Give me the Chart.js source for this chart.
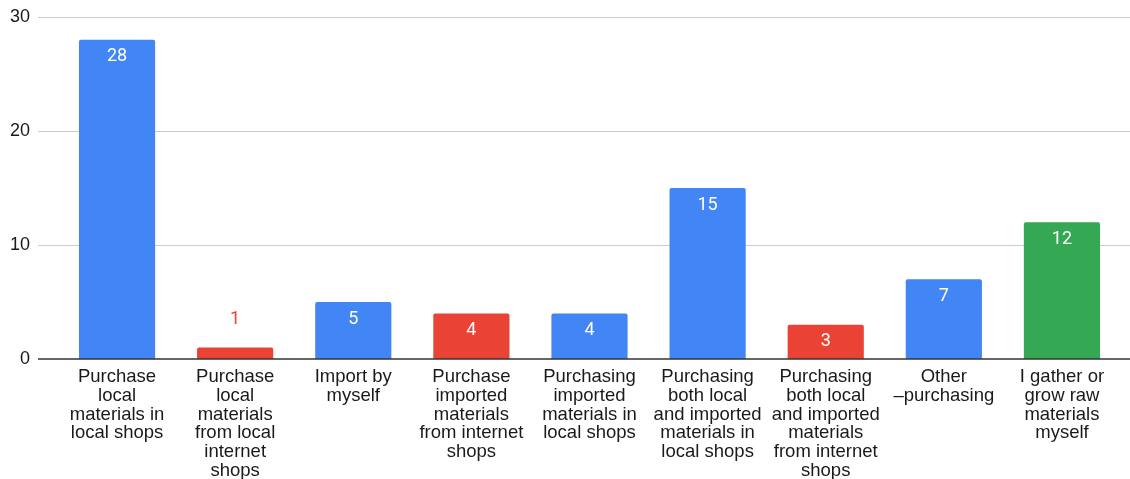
<!DOCTYPE html>
<html>
<head>
<meta charset="utf-8">
<title>Raw materials sources</title>
<script src="https://cdn.jsdelivr.net/npm/chart.js@4/dist/chart.umd.min.js"></script>
<style>
  html, body { margin: 0; padding: 0; background: #fff; }
  canvas { display: block; }
</style>
</head>
<body>
<canvas id="myChart" width="1130" height="479"></canvas>
<script>
const categories = [
    ['Purchase', 'local', 'materials in', 'local shops'],
    ['Purchase', 'local', 'materials', 'from local', 'internet', 'shops'],
    ['Import by', 'myself'],
    ['Purchase', 'imported', 'materials', 'from internet', 'shops'],
    ['Purchasing', 'imported', 'materials in', 'local shops'],
    ['Purchasing', 'both local', 'and imported', 'materials in', 'local shops'],
    ['Purchasing', 'both local', 'and imported', 'materials', 'from internet', 'shops'],
    ['Other', '\u2013purchasing'],
    ['I gather or', 'grow raw', 'materials', 'myself']
];
const counts = [28, 1, 5, 4, 4, 15, 3, 7, 12];
const barColors = ['#4285F4', '#EA4335', '#4285F4', '#EA4335', '#4285F4',
                   '#4285F4', '#EA4335', '#4285F4', '#34A853'];
const yTicks = [0, 10, 20, 30];

const FONT = '"Liberation Sans", Arial, sans-serif';

// horizontal grid + baseline, a bit wider than the bar area
const gridLines = {
    id: 'gridLines',
    beforeDatasetsDraw(chart) {
        const ctx = chart.ctx;
        const y = chart.scales.y;
        ctx.save();
        yTicks.forEach(v => {
            if (v === 0) return;
            const py = Math.round(y.getPixelForValue(v)) + 0.5;
            ctx.strokeStyle = '#cccccc';
            ctx.lineWidth = 1;
            ctx.beginPath();
            ctx.moveTo(38, py);
            ctx.lineTo(1130, py);
            ctx.stroke();
        });
        ctx.restore();
    },
    afterDatasetsDraw(chart) {
        const ctx = chart.ctx;
        const py = chart.scales.y.getPixelForValue(0);
        ctx.save();
        ctx.strokeStyle = '#333333';
        ctx.lineWidth = 1.5;
        ctx.beginPath();
        ctx.moveTo(38, py);
        ctx.lineTo(1130, py);
        ctx.stroke();
        ctx.restore();
    }
};

// value labels: inside the bar top, or above it when the bar is too short
const valueLabels = {
    id: 'valueLabels',
    afterDatasetsDraw(chart) {
        const ctx = chart.ctx;
        const meta = chart.getDatasetMeta(0);
        ctx.save();
        ctx.font = '18px Roboto, sans-serif';
        ctx.textAlign = 'center';
        ctx.textBaseline = 'middle';
        meta.data.forEach((bar, i) => {
            const h = bar.base - bar.y;
            if (h > 30) {
                ctx.fillStyle = '#ffffff';
                ctx.fillText(counts[i], bar.x, bar.y + 17);
            } else {
                ctx.fillStyle = barColors[i];
                ctx.fillText(counts[i], bar.x, bar.y - 28);
            }
        });
        ctx.restore();
    }
};

new Chart(document.getElementById('myChart'), {
    type: 'bar',
    data: {
        labels: categories,
        datasets: [{
            data: counts,
            backgroundColor: barColors,
            borderRadius: { topLeft: 2, topRight: 2 },
            borderSkipped: 'bottom',
            categoryPercentage: 1,
            barPercentage: 0.645
        }]
    },
    options: {
        responsive: false,
        devicePixelRatio: 1,
        animation: false,
        layout: { padding: { top: 17, right: 9, left: 0, bottom: 0 } },
        plugins: {
            legend: { display: false },
            tooltip: { enabled: false }
        },
        scales: {
            x: {
                grid: { display: false, drawTicks: false },
                border: { display: false },
                ticks: {
                    color: '#1a1a1a',
                    maxRotation: 0,
                    autoSkip: false,
                    padding: 9,
                    font: { family: FONT, size: 18.5, lineHeight: 1.01 }
                },
                afterFit(scale) {
                    scale.height = 120;
                    scale.paddingLeft = 0;
                    scale.paddingRight = 0;
                }
            },
            y: {
                min: 0,
                max: 30,
                afterBuildTicks(scale) {
                    scale.ticks = yTicks.map(v => ({ value: v }));
                },
                grid: { display: false, drawTicks: false },
                border: { display: false },
                ticks: {
                    color: '#1a1a1a',
                    padding: 28,
                    font: { family: FONT, size: 18 }
                },
                afterFit(scale) {
                    scale.width = 58;
                    scale.paddingTop = 0;
                    scale.paddingBottom = 0;
                }
            }
        }
    },
    plugins: [gridLines, valueLabels]
});
</script>
</body>
</html>
